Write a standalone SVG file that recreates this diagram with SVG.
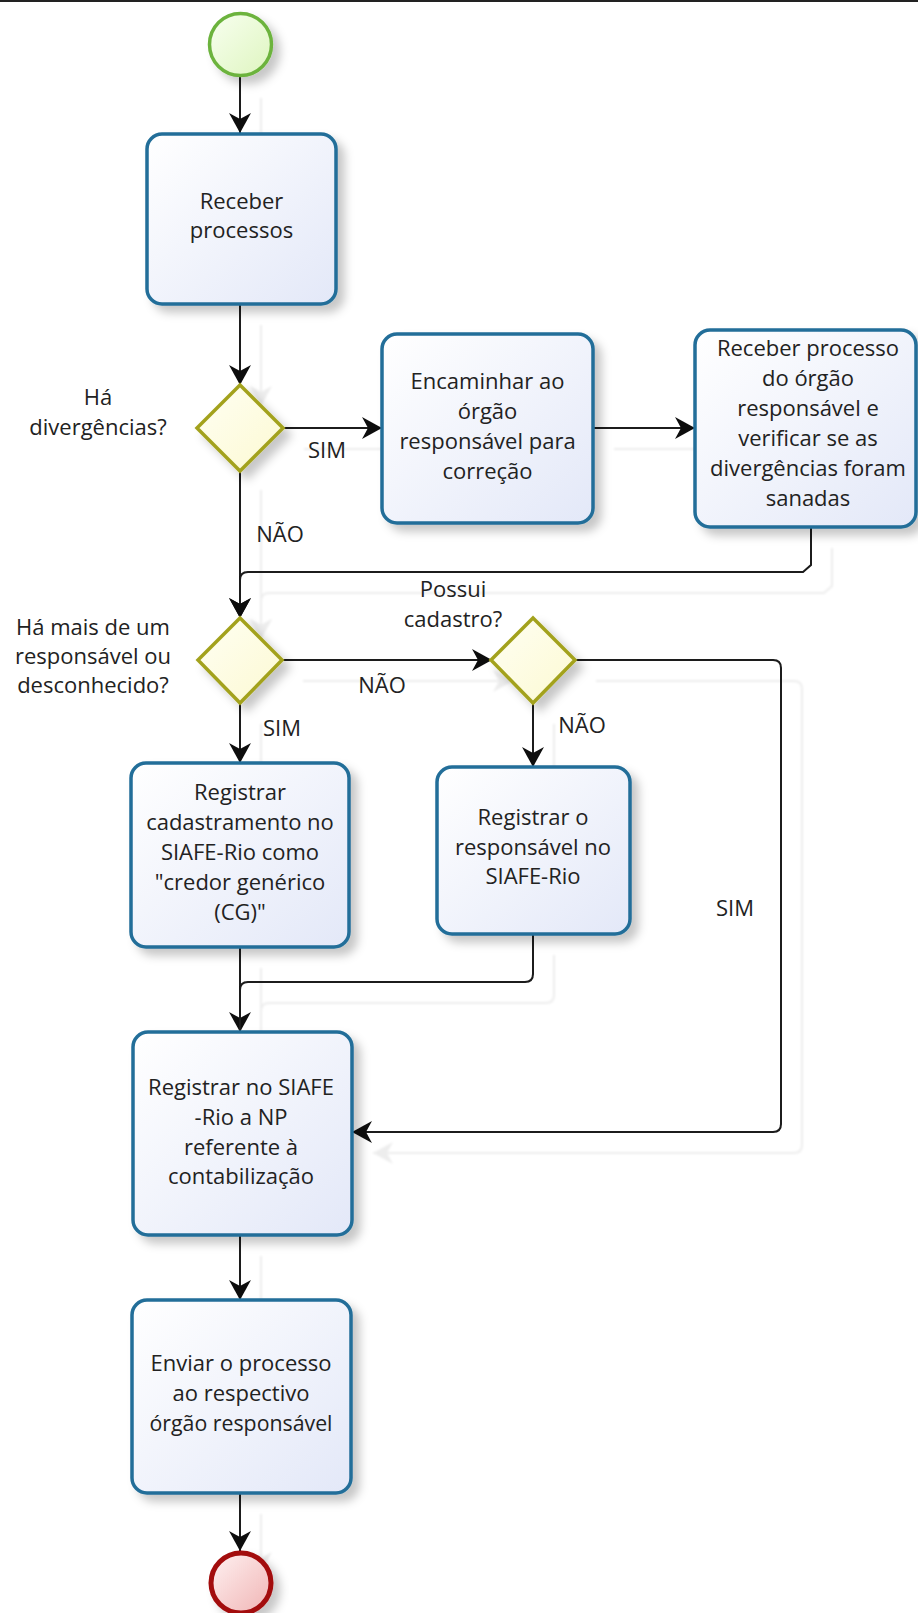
<svg xmlns="http://www.w3.org/2000/svg" width="918" height="1613" viewBox="0 0 918 1613">
<style>
.box{fill:url(#gBox);stroke:#236e99;stroke-width:3.5}
.dia{fill:url(#gDia);stroke:#a3a21f;stroke-width:3.5}
.t{font-family:"Open Sans","Liberation Sans",sans-serif;font-size:22px;fill:#222;text-anchor:middle}
.c{fill:none;stroke:#1a1a1a;stroke-width:2}
</style>
<defs>
<linearGradient id="gBox" x1="0" y1="0" x2="1" y2="1">
<stop offset="0" stop-color="#ffffff"/><stop offset="1" stop-color="#e3e8f8"/>
</linearGradient>
<linearGradient id="gDia" x1="0" y1="0" x2="1" y2="1">
<stop offset="0" stop-color="#fffff3"/><stop offset="1" stop-color="#fcf9d2"/>
</linearGradient>
<linearGradient id="gStart" x1="0" y1="0" x2="1" y2="1">
<stop offset="0" stop-color="#f8fff0"/><stop offset="1" stop-color="#def5bf"/>
</linearGradient>
<linearGradient id="gEnd" x1="0" y1="0" x2="1" y2="1">
<stop offset="0" stop-color="#fff2f2"/><stop offset="1" stop-color="#f0b4b4"/>
</linearGradient>
<filter id="sh" x="-20%" y="-20%" width="150%" height="150%">
<feDropShadow dx="7" dy="7" stdDeviation="5" flood-color="#000" flood-opacity="0.22"/>
</filter>
<filter id="ghost" x="-10%" y="-10%" width="130%" height="130%">
<feDropShadow dx="21" dy="21" stdDeviation="1" flood-color="#000" flood-opacity="0.07"/>
</filter>
<marker id="arr" markerUnits="userSpaceOnUse" markerWidth="24" markerHeight="24" viewBox="-22 -12 24 24" refX="0" refY="0" orient="auto">
<path d="M0,0 L-20,-11 L-14,0 L-20,11 Z" fill="#111"/>
</marker>
</defs>
<rect x="0" y="0" width="918" height="2" fill="#222"/>
<g id="connectors" filter="url(#ghost)">
<path class="c" d="M240,77 V133" marker-end="url(#arr)"/>
<path class="c" d="M240,304 V385" marker-end="url(#arr)"/>
<path class="c" d="M283,428 H382" marker-end="url(#arr)"/>
<path class="c" d="M593,428 H695" marker-end="url(#arr)"/>
<path class="c" d="M240,469 V618" marker-end="url(#arr)"/>
<path class="c" d="M811,527 V565 L803,572 H248 Q240,572 240,580 V618" marker-end="url(#arr)"/>
<path class="c" d="M282,660 H492" marker-end="url(#arr)"/>
<path class="c" d="M240,703 V763" marker-end="url(#arr)"/>
<path class="c" d="M533,703 V767" marker-end="url(#arr)"/>
<path class="c" d="M575,660 H773 Q781,660 781,668 V1124 Q781,1132 773,1132 H352" marker-end="url(#arr)"/>
<path class="c" d="M240,947 V1032" marker-end="url(#arr)"/>
<path class="c" d="M533,934 V974 Q533,982 525,982 H248 Q240,982 240,990 V1032"/>
<path class="c" d="M240,1235 V1300" marker-end="url(#arr)"/>
<path class="c" d="M240,1493 V1551" marker-end="url(#arr)"/>
</g>
<g id="labels">
<text class="t" x="327" y="458">SIM</text>
<text class="t" x="280" y="542">NÃO</text>
<text class="t" x="382" y="693">NÃO</text>
<text class="t" x="282" y="736">SIM</text>
<text class="t" x="582" y="733">NÃO</text>
<text class="t" x="735" y="916">SIM</text>
</g>
<g id="start" filter="url(#sh)">
<circle cx="240.5" cy="44.5" r="31" fill="url(#gStart)" stroke="#6cb33e" stroke-width="3.5"/>
</g>
<g id="receber-processos">
<rect class="box" x="147" y="134" width="189" height="170" rx="15" filter="url(#sh)"/>
<text class="t" x="241.5" y="209">Receber</text>
<text class="t" x="241.5" y="238">processos</text>
</g>
<g id="gw-divergencias">
<path class="dia" d="M240,385 L283,428 L240,471 L197,428 Z" filter="url(#sh)"/>
<text class="t" x="98" y="405">Há</text>
<text class="t" x="98" y="435">divergências?</text>
</g>
<g id="encaminhar">
<rect class="box" x="382" y="334" width="211" height="189" rx="15" filter="url(#sh)"/>
<text class="t" x="487.5" y="389">Encaminhar ao</text>
<text class="t" x="487.5" y="419">órgão</text>
<text class="t" x="487.5" y="449">responsável para</text>
<text class="t" x="487.5" y="479">correção</text>
</g>
<g id="receber-processo-orgao">
<rect class="box" x="695" y="330" width="221" height="197" rx="15" filter="url(#sh)"/>
<text class="t" x="808" y="356">Receber processo</text>
<text class="t" x="808" y="386">do órgão</text>
<text class="t" x="808" y="416">responsável e</text>
<text class="t" x="808" y="446">verificar se as</text>
<text class="t" x="808" y="476">divergências foram</text>
<text class="t" x="808" y="506">sanadas</text>
</g>
<g id="gw-responsavel">
<path class="dia" d="M240,618 L282,660 L240,703 L198,660 Z" filter="url(#sh)"/>
<text class="t" x="93" y="635">Há mais de um</text>
<text class="t" x="93" y="664">responsável ou</text>
<text class="t" x="93" y="693">desconhecido?</text>
</g>
<g id="gw-cadastro">
<path class="dia" d="M533,618 L575,660 L533,703 L491,660 Z" filter="url(#sh)"/>
<text class="t" x="453" y="597">Possui</text>
<text class="t" x="453" y="627">cadastro?</text>
</g>
<g id="registrar-cg">
<rect class="box" x="131" y="763" width="218" height="184" rx="15" filter="url(#sh)"/>
<text class="t" x="240" y="800">Registrar</text>
<text class="t" x="240" y="830">cadastramento no</text>
<text class="t" x="240" y="860">SIAFE-Rio como</text>
<text class="t" x="240" y="890">"credor genérico</text>
<text class="t" x="240" y="920">(CG)"</text>
</g>
<g id="registrar-responsavel">
<rect class="box" x="437" y="767" width="193" height="167" rx="15" filter="url(#sh)"/>
<text class="t" x="533" y="825">Registrar o</text>
<text class="t" x="533" y="855">responsável no</text>
<text class="t" x="533" y="884">SIAFE-Rio</text>
</g>
<g id="registrar-np">
<rect class="box" x="133" y="1032" width="219" height="203" rx="15" filter="url(#sh)"/>
<text class="t" x="241" y="1095">Registrar no SIAFE</text>
<text class="t" x="241" y="1125">-Rio a NP</text>
<text class="t" x="241" y="1155">referente à</text>
<text class="t" x="241" y="1184">contabilização</text>
</g>
<g id="enviar">
<rect class="box" x="132" y="1300" width="219" height="193" rx="15" filter="url(#sh)"/>
<text class="t" x="241" y="1371">Enviar o processo</text>
<text class="t" x="241" y="1401">ao respectivo</text>
<text class="t" x="241" y="1431" textLength="183" lengthAdjust="spacingAndGlyphs">órgão responsável</text>
</g>
<g id="end" filter="url(#sh)">
<circle cx="241" cy="1583" r="30" fill="url(#gEnd)" stroke="#a30b0e" stroke-width="5"/>
</g>
</svg>
